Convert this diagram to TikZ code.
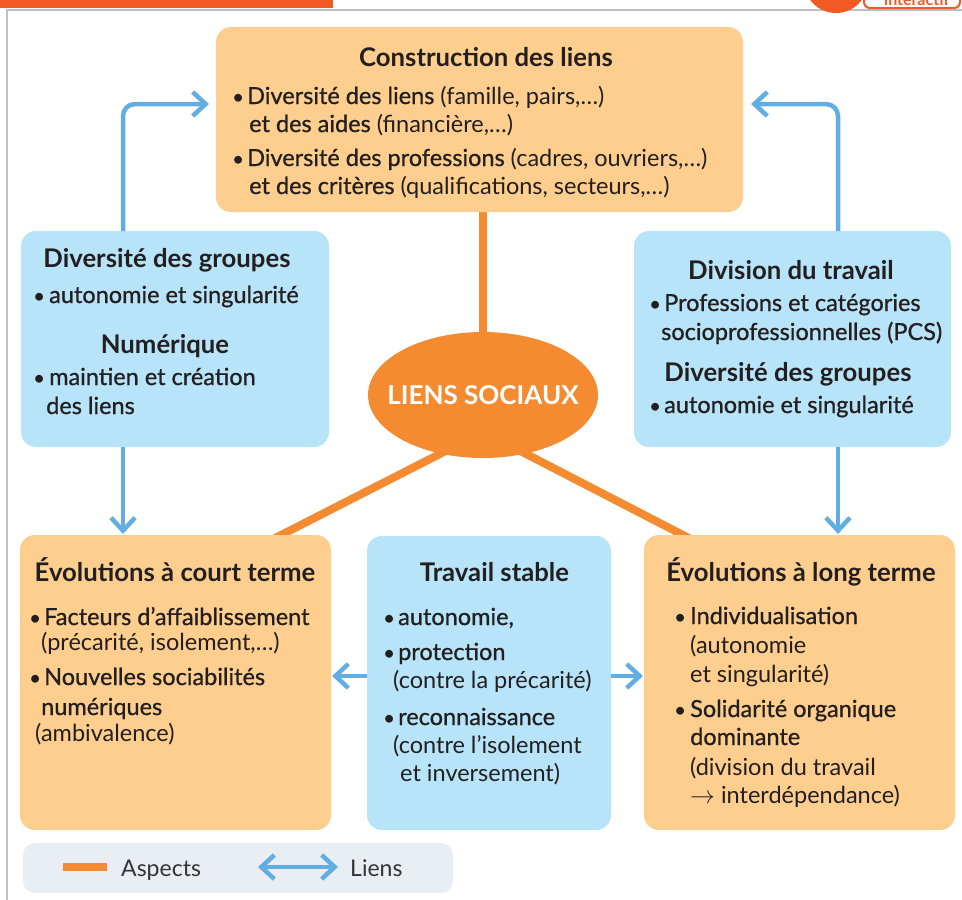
\documentclass[tikz,border=0pt]{standalone}
\usepackage{fontspec}
\setmainfont{Lato}
\newfontfamily\medfont[FakeBold=0.8]{Lato}
\usetikzlibrary{shapes.geometric,arrows.meta,calc}
\definecolor{boxor}{HTML}{FDCE8E}
\definecolor{boxbl}{HTML}{B7E4F8}
\definecolor{lineor}{HTML}{F48B30}
\definecolor{arrbl}{HTML}{62AEE2}
\definecolor{txt}{HTML}{231F20}
\definecolor{topor}{HTML}{F15A24}
\definecolor{framegray}{HTML}{BFBFBF}
\definecolor{legbg}{HTML}{E8EEF3}
\definecolor{legtxt}{HTML}{333333}
\newcommand{\bodyfont}{\fontsize{23.5}{28}\selectfont}
\newcommand{\ttlfont}{\fontsize{25.7}{30}\selectfont\bfseries}
\newcommand{\md}[1]{{\medfont #1}}
\newcommand{\bul}[1][11pt]{\hspace*{-4pt}\makebox[\dimexpr#1+4pt\relax][l]{\fontsize{21}{21}\selectfont•}}
\pgfdeclarelayer{bg}
\pgfsetlayers{bg,main}
\tikzset{
  boxshape/.style={rectangle, rounded corners=15pt, inner sep=0pt, outer sep=0pt, anchor=north west},
  obox/.style={boxshape, fill=boxor},
  bbox/.style={boxshape, fill=boxbl},
  ttl/.style={anchor=base, inner sep=0pt, font=\ttlfont, text=txt},
  bodytext/.style={anchor=base west, inner sep=0pt, font=\bodyfont, text=txt, align=left},
  link/.style={draw=arrbl, line width=4.5pt, rounded corners=12pt, -{Straight Barb[length=13pt,width=24pt]}, shorten >=1pt},
  aspectline/.style={draw=lineor, line width=8pt},
  legtext/.style={anchor=base west, inner sep=0pt, font=\fontsize{23}{26}\selectfont, text=legtxt},
}
\begin{document}
\begin{tikzpicture}[x=1pt,y=-1pt]
\useasboundingbox (0,0) rectangle (962,900);

% header decorations
\fill[topor] (0,0) rectangle (333,8);
\draw[framegray, line width=2.5pt] (7,900) -- (7,10) -- (962,10);
\draw[topor, line width=2pt, fill=white, rounded corners=6pt] (864,-30) rectangle (960,8);
\fill[topor] (836,-19) circle (32pt);
\node[anchor=base west, inner sep=0pt, text=topor, font=\fontsize{16}{16}\selectfont\bfseries] (inter) at (884,5) {interactif};

% boxes
\node[obox, minimum width=527pt, minimum height=185pt] (top) at (216,27) {};
\node[bbox, minimum width=308pt, minimum height=216pt] (lb) at (21,231) {};
\node[bbox, minimum width=317pt, minimum height=216pt] (rb) at (634,231) {};
\node[obox, minimum width=311pt, minimum height=295pt] (bl) at (20,535) {};
\node[bbox, minimum width=244pt, minimum height=294pt] (mid) at (367,536) {};
\node[obox, minimum width=311pt, minimum height=295pt] (br) at (644,535) {};
\node[ellipse, fill=lineor, minimum width=230pt, minimum height=126pt, inner sep=0pt, text=white, font=\fontsize{26}{28}\selectfont\bfseries] (lien) at (483,395) {\makebox[0pt]{LIENS SOCIAUX}};

% top box text
\node[ttl] (topT) at (486,66) {Construction des liens};
\node[bodytext] (topB) at (236,194) {\bul\md{Diversité des liens} (famille, pairs,…)\\
\hspace*{13pt}\md{et des aides} (financière,…)\\[6pt]
\bul\md{Diversité des professions} (cadres, ouvriers,…)\\
\hspace*{13pt}\md{et des critères} (qualifications, secteurs,…)};

% left blue box text
\node[ttl] (lbT1) at (167,267) {Diversité des groupes};
\node[bodytext] (lbB1) at (37,303) {\bul[12pt]\md{autonomie et singularité}};
\node[ttl] (lbT2) at (165,353) {Numérique};
\node[bodytext] (lbB2) at (37,414) {\bul[12pt]\md{maintien et création}\\[1pt]
\hspace*{9pt}\md{des liens}};

% right blue box text
\node[ttl] (rbT1) at (791,279) {Division du travail};
\node[bodytext] (rbB1) at (653,340) {\bul\md{Professions et catégories}\\[1pt]
\hspace*{8pt}\md{socioprofessionnelles (PCS)}};
\node[ttl] (rbT2) at (788,381) {Diversité des groupes};
\node[bodytext] (rbB2) at (653,413) {\bul\md{autonomie et singularité}};

% bottom left text
\node[ttl] (blT) at (175,581) {Évolutions à court terme};
\node[bodytext] (blB) at (33,741) {\bul\md{Facteurs d’affaiblissement}\\[-3pt]
\hspace*{8pt}(précarité, isolement,…)\\[7pt]
\bul\md{Nouvelles sociabilités}\\[2pt]
\hspace*{8pt}\md{numériques}\\[-2pt]
\hspace*{2pt}(ambivalence)};

% middle text
\node[ttl] (midT) at (494.5,581) {Travail stable};
\node[bodytext] (midB) at (387,781) {\bul\md{autonomie,}\\[7pt]
\bul\md{protection}\\
\hspace*{6pt}(contre la précarité)\\[9pt]
\bul\md{reconnaissance}\\
\hspace*{6pt}(contre l’isolement\\
\hspace*{13pt}et inversement)};

% bottom right text
\node[ttl] (brT) at (801,581) {Évolutions à long terme};
\node[bodytext] (brB) at (678,803) {\bul[12pt]\md{Individualisation}\\[1pt]
\hspace*{12pt}(autonomie\\[1pt]
\hspace*{12pt}et singularité)\\[7pt]
\bul[12pt]\md{Solidarité organique}\\
\hspace*{12pt}\md{dominante}\\[2pt]
\hspace*{12pt}(division du travail\\
\hspace*{12pt}$\rightarrow$ interdépendance)};

% aspects (orange lines) behind
\coordinate (blin) at ([xshift=249.4pt,yshift=-6pt]bl.north west);
\coordinate (brin) at ([xshift=50.5pt,yshift=-6pt]br.north west);
\begin{pgfonlayer}{bg}
\draw[aspectline] (lien.center) -- (lien.center |- top.south);
\draw[aspectline] ($(lien.234)!-12pt!(blin)$) -- (blin);
\draw[aspectline] ($(lien.306)!-12pt!(brin)$) -- (brin);
\end{pgfonlayer}

% links (blue arrows)
\coordinate (lbn) at ([xshift=-52pt]lb.north);
\coordinate (lbs) at ([xshift=-52pt]lb.south);
\coordinate (rbn) at ([xshift=45.5pt]rb.north);
\coordinate (rbs) at ([xshift=45.5pt]rb.south);
\coordinate (mw) at ([yshift=7pt]mid.west);
\coordinate (me) at ([yshift=7pt]mid.east);
\draw[link] (lbn) |- ([xshift=-6pt,yshift=15.5pt]top.west);
\draw[link] (rbn) |- ([xshift=7pt,yshift=15.5pt]top.east);
\draw[link] (lbs) -- (lbs |- bl.north);
\draw[link] (rbs) -- (rbs |- br.north);
\draw[link] (mw) -- (mw -| bl.east);
\draw[link] (me) -- (me -| br.west);

% legend
\node[boxshape, fill=legbg, minimum width=430pt, minimum height=50pt, rounded corners=12pt] (legend) at (23,843) {};
\coordinate (la1) at (63,867);
\coordinate (la2) at (107,867);
\draw[aspectline] (la1) -- (la2);
\node[legtext] (legA) at (121,876) {Aspects};
\coordinate (lk1) at (258,867);
\coordinate (lk2) at (338,867);
\draw[link, {Straight Barb[length=13pt,width=24pt]}-{Straight Barb[length=13pt,width=24pt]}, shorten <=0pt, shorten >=0pt] (lk1) -- (lk2);
\node[legtext] (legL) at (350,876) {Liens};
\end{tikzpicture}
\end{document}
